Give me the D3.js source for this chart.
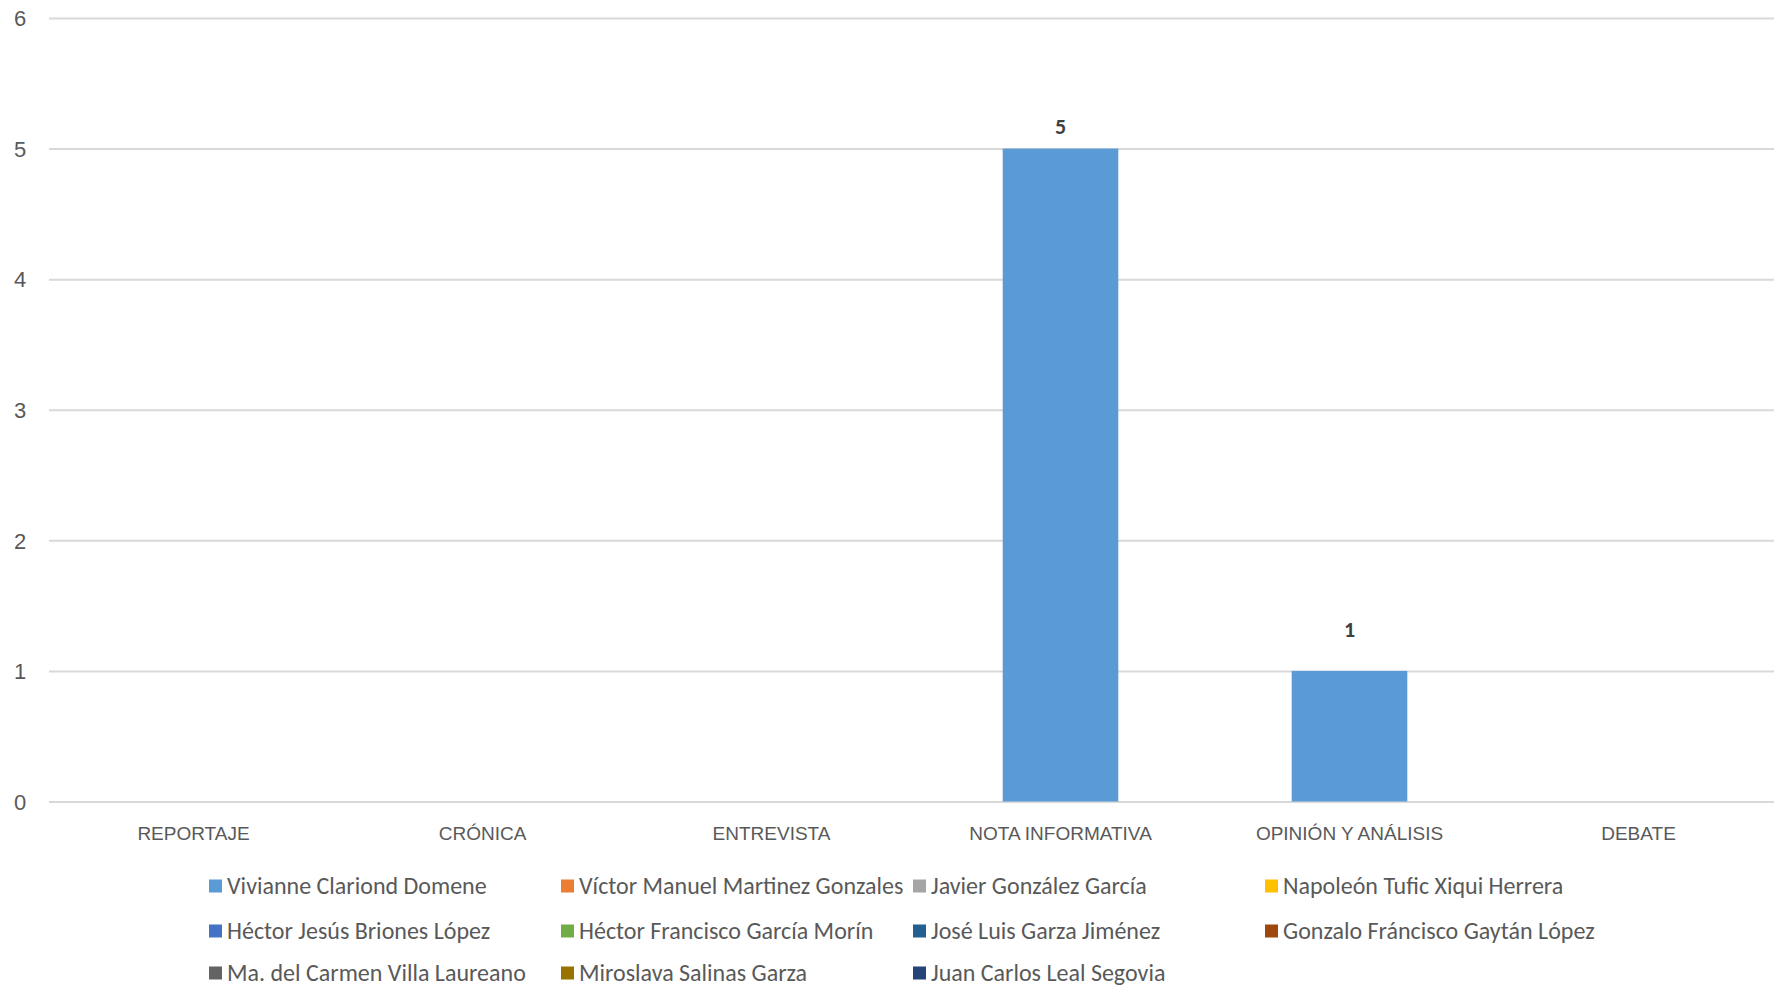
<!DOCTYPE html>
<html><head><meta charset="utf-8">
<script src="https://cdn.jsdelivr.net/npm/d3@7"></script>
<style>
html,body{margin:0;padding:0;background:#fff;overflow:hidden}
svg{display:block;font-family:Carlito,Calibri,Lato,"Open Sans",sans-serif}
</style></head><body>
<svg id="c" width="1774" height="986"></svg>
<script>
const categories = ["REPORTAJE","CRÓNICA","ENTREVISTA","NOTA INFORMATIVA","OPINIÓN Y ANÁLISIS","DEBATE"];
const seriesNames = ["Vivianne Clariond Domene","Víctor Manuel Martinez Gonzales","Javier González García","Napoleón Tufic Xiqui Herrera","Héctor Jesús Briones López","Héctor Francisco García Morín","José Luis Garza Jiménez","Gonzalo Fráncisco Gaytán López","Ma. del Carmen Villa Laureano","Miroslava Salinas Garza","Juan Carlos Leal Segovia"];
const seriesColors = ["#5B9BD5","#ED7D31","#A5A5A5","#FFC000","#4472C4","#70AD47","#255E91","#9E480E","#636363","#997300","#264478"];
const vivianne = [0,0,0,5,1,0];
const victor = [0,0,0,0,0,0];
const javier = [0,0,0,0,0,0];
const napoleon = [0,0,0,0,0,0];
const hectorJ = [0,0,0,0,0,0];
const hectorF = [0,0,0,0,0,0];
const joseLuis = [0,0,0,0,0,0];
const gonzalo = [0,0,0,0,0,0];
const maCarmen = [0,0,0,0,0,0];
const miroslava = [0,0,0,0,0,0];
const juanCarlos = [0,0,0,0,0,0];
const seriesValues = [vivianne,victor,javier,napoleon,hectorJ,hectorF,joseLuis,gonzalo,maCarmen,miroslava,juanCarlos];
const yTicks = [0,1,2,3,4,5,6];

const svg = d3.select("#c");
const x0 = 49, x1 = 1783, yTop = 18, yBot = 801.5;
const x = d3.scaleBand().domain(categories).range([x0,x1]).paddingInner(0.6).paddingOuter(0.3);
const y = d3.scaleLinear().domain([0,6]).range([yBot,yTop]);
// label distance above bar end, per category (style only)
const labelGap = [22,22,22,22,42,22];

const table = categories.map((c,i)=>{const o={cat:c}; seriesNames.forEach((s,j)=>o[s]=seriesValues[j][i]); return o;});
const stacked = d3.stack().keys(seriesNames)(table);

// grid
const yAxis = d3.axisLeft(y).tickValues(yTicks).tickSize(-(1774-x0)).tickFormat(d3.format("d"));
const ga = svg.append("g").attr("transform",`translate(${x0},0)`).call(yAxis);
ga.select(".domain").remove();
ga.selectAll(".tick line").attr("stroke","#d9d9d9").attr("stroke-width",2);
ga.selectAll(".tick text").attr("x",-29).attr("text-anchor","middle").attr("fill","#595959").attr("font-size",22).attr("dy","0.35em").attr("font-family","inherit");

// bars
const bw = x.step()/2.5;
stacked.forEach((layer,j)=>{
  const nz = layer.filter(d=>d[1]-d[0]>0);
  svg.append("g").attr("fill",seriesColors[j]).selectAll("rect").data(nz).join("rect")
    .attr("x",d=>x(d.data.cat)+x.bandwidth()/2-bw/2).attr("width",bw)
    .attr("y",d=>y(d[1])).attr("height",d=>y(d[0])-y(d[1]));
  svg.append("g").selectAll("text").data(nz).join("text")
    .attr("x",d=>x(d.data.cat)+x.bandwidth()/2)
    .attr("y",d=>y(d[1])-labelGap[categories.indexOf(d.data.cat)])
    .attr("text-anchor","middle").attr("font-size",22).attr("font-weight","bold").attr("fill","#404040")
    .attr("dy","0.35em").text(d=>d[1]-d[0]);
});

// x axis labels
const xAxis = d3.axisBottom(x).tickSize(0).tickPadding(0);
const gx = svg.append("g").attr("transform",`translate(0,${yBot})`).call(xAxis);
gx.select(".domain").remove();
gx.selectAll(".tick text").attr("y",32).attr("dy","0.35em").attr("fill","#595959").attr("font-size",19).attr("font-family","inherit");

// legend
const colX = [209,561,913,1265], rowY = [886,931,973];
const lg = svg.append("g").selectAll("g").data(seriesNames).join("g")
  .attr("transform",(d,i)=>`translate(${colX[i%4]},${rowY[Math.floor(i/4)]})`);
lg.append("rect").attr("x",0).attr("y",-6.5).attr("width",13).attr("height",13).attr("fill",(d,i)=>seriesColors[i]);
lg.append("text").attr("x",18).attr("dy","0.35em").attr("fill","#595959").attr("font-size",24).text(d=>d);
</script></body></html>
